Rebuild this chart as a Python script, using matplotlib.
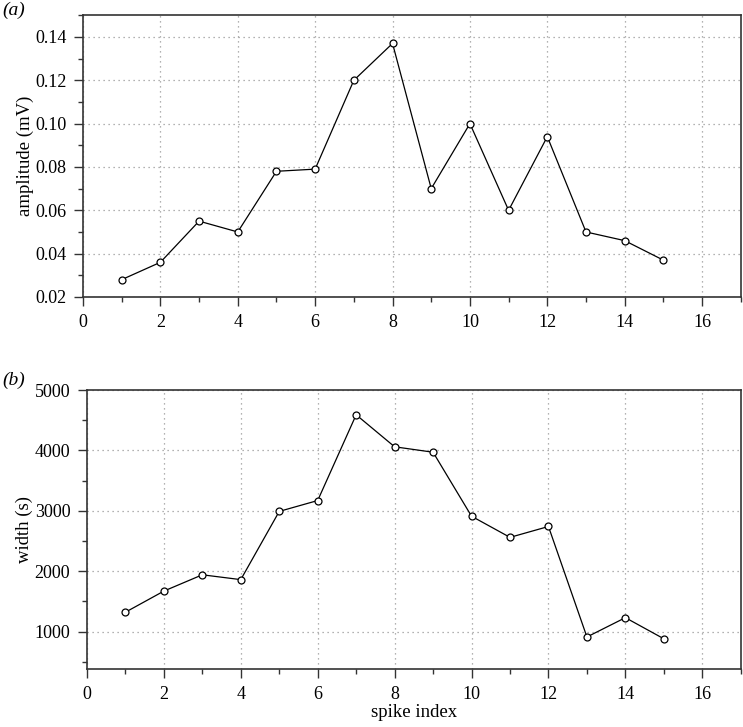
import numpy as np
import matplotlib.pyplot as plt
from matplotlib.ticker import MultipleLocator

# spike data
spike_index = np.arange(1, 16)
amplitude = [0.028, 0.036, 0.055, 0.050, 0.078, 0.079, 0.120, 0.137,
             0.070, 0.100, 0.060, 0.094, 0.050, 0.046, 0.037]
width = [1320, 1670, 1940, 1860, 2990, 3170, 4590, 4060,
         3970, 2910, 2560, 2740, 910, 1230, 880]

plt.rcParams['font.family'] = ['Liberation Serif', 'DejaVu Serif']
plt.rcParams['font.size'] = 13

fig = plt.figure(figsize=(7.43, 7.27), dpi=100)
ax1 = fig.add_axes([0.1117, 0.5915, 0.8853, 0.3875])
ax2 = fig.add_axes([0.117, 0.0798, 0.88, 0.3837])


def style_axes(ax, ymajor, yminor):
    ax.set_xlim(0, 17)
    ax.xaxis.set_major_locator(MultipleLocator(2))
    ax.xaxis.set_minor_locator(MultipleLocator(1))
    ax.yaxis.set_major_locator(MultipleLocator(ymajor))
    ax.yaxis.set_minor_locator(MultipleLocator(yminor))
    ax.tick_params(which='major', direction='out', length=6.5, width=1, colors='#333333',
                   labelcolor='black', labelsize=13, pad=5.5)
    ax.tick_params(which='minor', direction='out', length=3.5, width=1, colors='#333333')
    ax.grid(True, which='major', linestyle=(0, (1, 3)), color='#999999', linewidth=0.9)
    for s in ax.spines.values():
        s.set_color('#333333')
        s.set_linewidth(1.2)


ax1.plot(spike_index, amplitude, color='black', linewidth=0.9, marker='o',
         markersize=5, markerfacecolor='white', markeredgecolor='black', markeredgewidth=0.9)
style_axes(ax1, 0.02, 0.01)
ax1.set_ylim(0.02, 0.15)
ax1.yaxis.set_major_formatter(lambda v, p: f"{v:.2f}")
ax1.set_ylabel("amplitude (mV)", fontsize=13.5, labelpad=1)
fig.text(0.003, 0.997, "(a)", fontsize=14, style='italic', va='top', ha='left')

ax2.plot(spike_index, width, color='black', linewidth=0.9, marker='o',
         markersize=5, markerfacecolor='white', markeredgecolor='black', markeredgewidth=0.9)
style_axes(ax2, 1000, 500)
ax2.set_ylim(380, 5000)
ax2.set_ylabel("width (s)", fontsize=13.5, labelpad=1)
ax2.set_xlabel("spike index", fontsize=13.5, labelpad=1)
fig.text(0.003, 0.489, "(b)", fontsize=14, style='italic', va='top', ha='left')

fig.savefig("out.png", dpi=100)
